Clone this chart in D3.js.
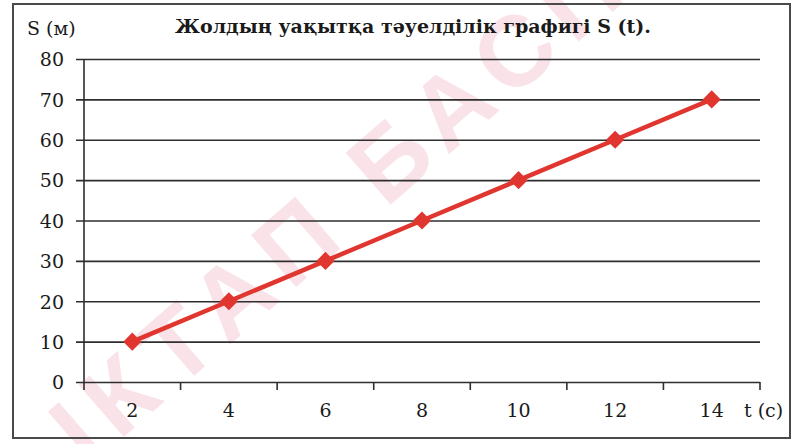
<!DOCTYPE html>
<html>
<head>
<meta charset="utf-8">
<script src="https://cdn.jsdelivr.net/npm/d3@7"></script>
<style>
  html, body { margin: 0; padding: 0; background: #fff; }
  svg { display: block; }
  text { font-family: "DejaVu Serif", "Liberation Serif", serif; fill: #1a1a1a; }
</style>
</head>
<body>
<svg id="chart" width="794" height="444"></svg>
<script>
// ---- data ----
const categories = ["2", "4", "6", "8", "10", "12", "14"];
const distances = [10, 20, 30, 40, 50, 60, 70];
const yTicks = [0, 10, 20, 30, 40, 50, 60, 70, 80];
const titleText = "Жолдың уақытқа тәуелділік графигі S (t).";
const yAxisLabel = "S (м)";
const xAxisLabel = "t (с)";
const watermarkText = "ІКТАП БАСПАСЫ";

// ---- layout ----
const W = 794, H = 444;
const plot = { left: 84, right: 760, top: 59, bottom: 382 };
const svg = d3.select("#chart");

svg.append("rect").attr("width", W).attr("height", H).attr("fill", "#fff");

// watermark
svg.append("text")
  .attr("transform", "translate(88,468) rotate(-41)")
  .attr("x", 0).attr("y", 0)
  .style("font-family", "'Liberation Sans', Arial, sans-serif")
  .style("font-weight", "bold")
  .style("font-size", "100px")
  .style("fill", "#fae3e8")
  .style("letter-spacing", "13px")
  .text(watermarkText);

// frame
svg.append("rect")
  .attr("x", 13).attr("y", 4).attr("width", 777).attr("height", 434)
  .attr("fill", "none").attr("stroke", "#4a4a4a").attr("stroke-width", 2);

const x = d3.scaleBand().domain(categories).range([plot.left, plot.right]).padding(0);
const y = d3.scaleLinear().domain([0, 80]).range([plot.bottom, plot.top]);

// y axis with gridlines
const yAxis = d3.axisLeft(y)
  .tickValues(yTicks)
  .tickSize(-(plot.right - plot.left))
  .tickSizeOuter(0)
  .tickPadding(20);
const gy = svg.append("g").attr("transform", `translate(${plot.left},0)`).call(yAxis);
gy.select(".domain").remove();
gy.selectAll(".tick line")
  .attr("x1", -8)
  .attr("stroke", "#2e2e2e").attr("stroke-width", 1.6);
gy.selectAll(".tick text")
  .attr("dy", "0.36em")
  .style("font-size", "19px")
  .style("font-family", "'DejaVu Serif', serif")
  .attr("fill", "#1a1a1a");

// vertical axis line
svg.append("line")
  .attr("x1", plot.left).attr("x2", plot.left)
  .attr("y1", plot.top).attr("y2", plot.bottom + 8)
  .attr("stroke", "#2e2e2e").attr("stroke-width", 1.6);

// x axis: ticks at band boundaries
const boundaries = categories.slice(1).map(c => x(c)).concat([plot.right]);
svg.append("g").selectAll("line").data(boundaries).join("line")
  .attr("x1", d => d).attr("x2", d => d)
  .attr("y1", plot.bottom).attr("y2", plot.bottom + 8)
  .attr("stroke", "#2e2e2e").attr("stroke-width", 1.6);

svg.append("g").selectAll("text").data(categories).join("text")
  .attr("x", d => x(d) + x.bandwidth() / 2)
  .attr("y", 410)
  .attr("dy", "0.36em")
  .attr("text-anchor", "middle")
  .style("font-size", "19px")
  .text(d => d);

svg.append("text")
  .attr("x", 744).attr("y", 410).attr("dy", "0.36em")
  .style("font-size", "19px")
  .text(xAxisLabel);

svg.append("text")
  .attr("x", 27).attr("y", 35)
  .style("font-size", "19px")
  .text(yAxisLabel);

svg.append("text")
  .attr("x", 413).attr("y", 33)
  .attr("text-anchor", "middle")
  .style("font-size", "19px")
  .style("font-weight", "bold")
  .text(titleText);

// series
const rows = categories.map((c, i) => ({ c, v: distances[i] }));
svg.append("path")
  .datum(rows)
  .attr("fill", "none")
  .attr("stroke", "#e0362f")
  .attr("stroke-width", 4.5)
  .attr("d", d3.line().x(d => x(d.c) + x.bandwidth() / 2).y(d => y(d.v)));

svg.append("g").selectAll("path")
  .data(rows)
  .join("path")
  .attr("transform", d => `translate(${x(d.c) + x.bandwidth() / 2},${y(d.v)})`)
  .attr("d", d3.symbol(d3.symbolDiamond2, 210))
  .attr("fill", "#e0362f");
</script>
</body>
</html>
